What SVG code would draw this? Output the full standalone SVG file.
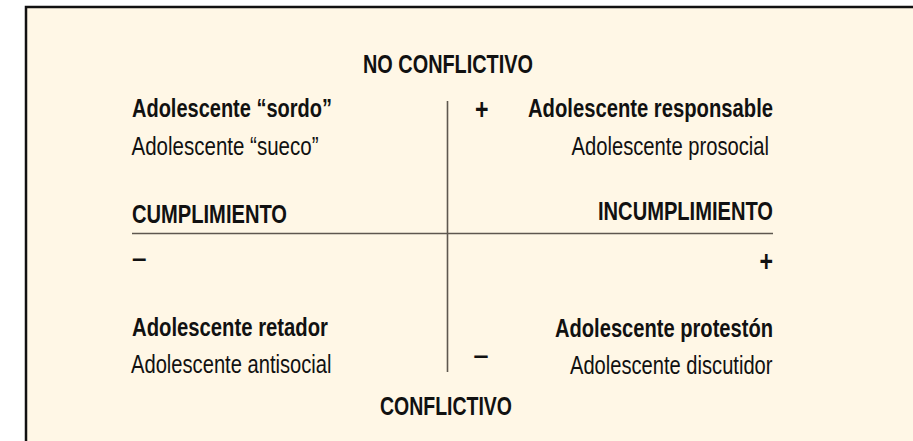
<svg xmlns="http://www.w3.org/2000/svg" width="913" height="441" viewBox="0 0 913 441">
  <style>
    .t { font-family: "Liberation Sans", Arial, sans-serif; font-size: 25px; fill: #111; }
    .b { font-weight: bold; }
    .s { font-family: "Liberation Sans", Arial, sans-serif; font-size: 26px; font-weight: bold; fill: #111; }
    .p { font-family: "Liberation Sans", Arial, sans-serif; font-size: 29px; font-weight: bold; fill: #111; }
    .axis { stroke: #5e574f; stroke-width: 1.6; fill: none; }
  </style>
  <rect x="26" y="7" width="900" height="440" fill="#fff7e6"/>
  <path d="M 914 7 H 26 V 442" fill="none" stroke="#111" stroke-width="2.5"/>

  <g id="connectors">
    <line class="axis" x1="447.5" y1="101" x2="447.5" y2="372"/>
    <line class="axis" x1="132" y1="233.5" x2="773" y2="233.5"/>
  </g>

  <g id="no-conflictivo">
    <text class="t b" x="363" y="73" textLength="170" lengthAdjust="spacingAndGlyphs">NO CONFLICTIVO</text>
  </g>
  <g id="conflictivo">
    <text class="t b" x="380" y="415" textLength="132" lengthAdjust="spacingAndGlyphs">CONFLICTIVO</text>
  </g>
  <g id="cumplimiento">
    <text class="t b" x="132" y="223" textLength="155" lengthAdjust="spacingAndGlyphs">CUMPLIMIENTO</text>
  </g>
  <g id="incumplimiento">
    <text class="t b" x="598" y="219.5" textLength="175" lengthAdjust="spacingAndGlyphs">INCUMPLIMIENTO</text>
  </g>

  <g id="quadrant-top-left">
    <text class="t b" x="132" y="117" textLength="200" lengthAdjust="spacingAndGlyphs">Adolescente “sordo”</text>
    <text class="t" x="131.5" y="155" textLength="187" lengthAdjust="spacingAndGlyphs">Adolescente “sueco”</text>
  </g>
  <g id="quadrant-top-right">
    <text class="t b" x="528" y="117" textLength="245" lengthAdjust="spacingAndGlyphs">Adolescente responsable</text>
    <text class="t" x="571.5" y="155" textLength="197.5" lengthAdjust="spacingAndGlyphs">Adolescente prosocial</text>
  </g>
  <g id="quadrant-bottom-left">
    <text class="t b" x="132" y="336" textLength="196" lengthAdjust="spacingAndGlyphs">Adolescente retador</text>
    <text class="t" x="131" y="373" textLength="200.5" lengthAdjust="spacingAndGlyphs">Adolescente antisocial</text>
  </g>
  <g id="quadrant-bottom-right">
    <text class="t b" x="555" y="337" textLength="218" lengthAdjust="spacingAndGlyphs">Adolescente protestón</text>
    <text class="t" x="570" y="374" textLength="202.5" lengthAdjust="spacingAndGlyphs">Adolescente discutidor</text>
  </g>

  <g id="signs">
    <text class="p" x="475" y="119" textLength="13.5" lengthAdjust="spacingAndGlyphs">+</text>
    <text class="p" x="759.5" y="271" textLength="13.5" lengthAdjust="spacingAndGlyphs">+</text>
    <text class="s" x="132" y="266.5" textLength="14.5" lengthAdjust="spacingAndGlyphs">–</text>
    <text class="s" x="473.5" y="364" textLength="15" lengthAdjust="spacingAndGlyphs">–</text>
  </g>
</svg>
